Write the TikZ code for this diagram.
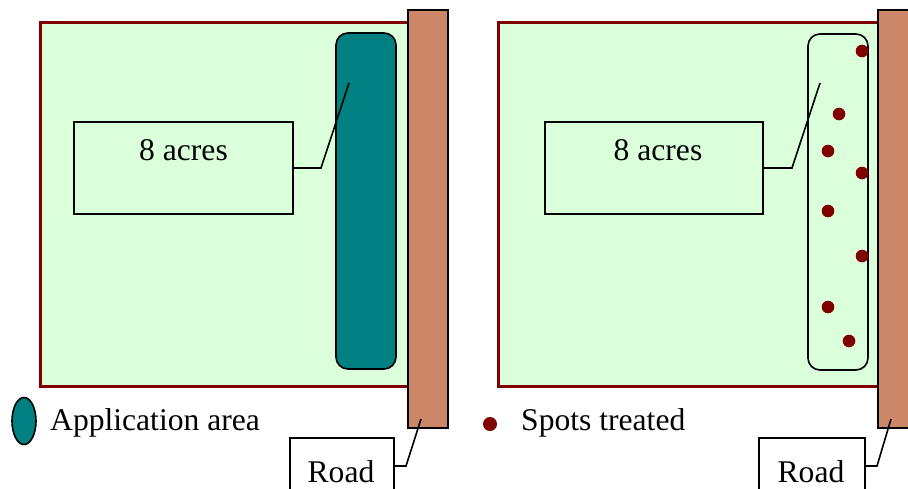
\documentclass[tikz,border=0pt]{standalone}
\usepackage{fontspec}
\setmainfont{Liberation Serif}
\usetikzlibrary{shapes.geometric}
\definecolor{fieldgreen}{RGB}{218,255,218}
\definecolor{fieldborder}{RGB}{128,0,0}
\definecolor{roadbrown}{RGB}{204,134,104}
\definecolor{appteal}{RGB}{0,128,128}
\definecolor{spotred}{RGB}{128,0,0}
\tikzset{
  field/.style={fill=fieldgreen, draw=fieldborder, line width=3pt},
  road/.style={fill=roadbrown, draw=black, line width=1.5pt},
  label box/.style={draw=black, line width=1.5pt},
  callout/.style={draw=black, line width=1.6pt},
  lbl/.style={font=\fontsize{31.6}{36}\selectfont, inner sep=0pt},
  spot/.style={fill=spotred, draw=none},
}
\begin{document}
\begin{tikzpicture}[x=1pt,y=-1pt]
\useasboundingbox (0,0) rectangle (908,488);
% ---------- left panel ----------
\path[field] (40,22) rectangle (412,386);
\path[road] (408,10) rectangle (448,428);
\node[draw=black, line width=1.6pt, fill=appteal, rounded corners=12pt, minimum width=60pt, minimum height=336pt, inner sep=0pt] (app) at (366,201) {};
\node[label box, minimum width=219pt, minimum height=92pt, inner sep=0pt] (acresL) at (183.5,168) {};
\node[lbl, anchor=base] (acresLt) at (183.5,160) {8 acres};
\coordinate (tipL) at (349,83);
\draw[callout] (acresL.east) -- (321,168) -- (tipL);
% legend left
\node[draw=black, line width=1.6pt, fill=appteal, ellipse, minimum width=24pt, minimum height=47pt, inner sep=0pt] (blob) at (24,421) {};
\node[lbl, anchor=base west] (applbl) at (50,430) {Application area};
% road label left
\node[label box, fill=white, minimum width=104pt, minimum height=70pt, inner sep=0pt, anchor=north west] (roadL) at (289,437) {};
\node[lbl, anchor=base] (roadLt) at (341,482) {Road};
\coordinate (roadLtip) at (421,419);
\draw[callout] (roadL.east |- 0,466) -- (406,466) -- (roadLtip);
% ---------- right panel ----------
\path[field] (498,22) rectangle (882,386);
\path[road] (878,10) rectangle (920,428);
\node[draw=black, line width=1.6pt, rounded corners=12pt, minimum width=60pt, minimum height=336pt, inner sep=0pt] (zone) at (838,202) {};
\foreach \x/\y [count=\i] in {862/51, 839/114, 828/151, 862/173, 828/211, 862/256, 828/307, 849/341}{
  \fill[spot] (\x,\y) circle (6.3pt);
}
\node[label box, minimum width=218pt, minimum height=92pt, inner sep=0pt] (acresR) at (654,168) {};
\node[lbl, anchor=base] (acresRt) at (658,160) {8 acres};
\coordinate (tipR) at (820,83);
\draw[callout] (acresR.east) -- (792,168) -- (tipR);
% legend right
\fill[spot] (490,424) circle (7pt);
\node[lbl, anchor=base west] (spotlbl) at (521,430) {Spots treated};
% road label right
\node[label box, fill=white, minimum width=106pt, minimum height=70pt, inner sep=0pt, anchor=north west] (roadR) at (758,437) {};
\node[lbl, anchor=base] (roadRt) at (811,482) {Road};
\coordinate (roadRtip) at (891,419);
\draw[callout] (roadR.east |- 0,466) -- (877,466) -- (roadRtip);
\end{tikzpicture}
\end{document}
